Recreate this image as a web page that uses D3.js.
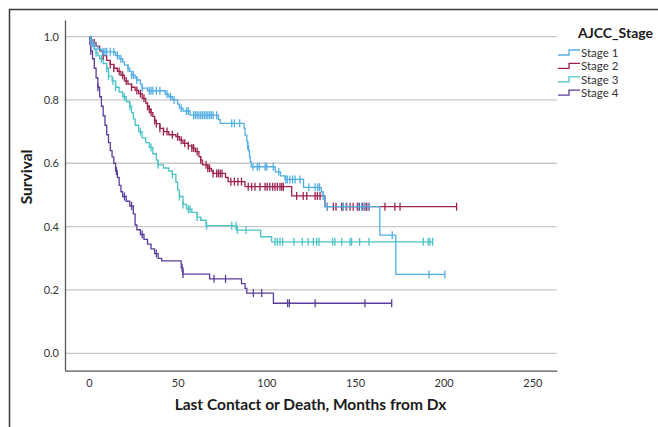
<!DOCTYPE html>
<html>
<head>
<meta charset="utf-8">
<script src="https://cdn.jsdelivr.net/npm/d3@7"></script>
<style>
  body { margin: 0; background: #fff; }
  text { font-family: Lato, "DejaVu Sans", sans-serif; }
</style>
</head>
<body>
<svg width="658" height="427"></svg>
<script>
const svg = d3.select("svg");

// Kaplan-Meier step points: [months, survival after the drop]
const stage1Steps = [[0,1.0],[1,0.99],[2,0.98],[3,0.97],[5,0.96],[7,0.952],[15,0.94],[17,0.93],[19,0.92],[20,0.91],[22,0.9],[23,0.89],[24,0.879],[26,0.87],[27,0.863],[29,0.85],[30,0.837],[33,0.829],[43,0.818],[45,0.81],[47,0.8],[50,0.787],[51,0.774],[53,0.765],[57,0.752],[73,0.738],[74,0.726],[87.5,0.71],[88,0.689],[89,0.67],[89.5,0.655],[90,0.64],[90.5,0.62],[91,0.605],[91.5,0.589],[105,0.573],[108,0.56],[110.5,0.549],[121,0.524],[131,0.51],[132,0.497],[133,0.463],[164,0.373],[173,0.249]];
const stage2Steps = [[0,1.0],[1,0.99],[2,0.98],[4,0.97],[6,0.955],[8,0.94],[10,0.925],[12,0.912],[14,0.9],[16,0.89],[18,0.878],[20,0.86],[22,0.85],[24,0.84],[26,0.83],[28,0.82],[30,0.805],[32,0.79],[33,0.78],[34,0.77],[35,0.76],[36,0.748],[37,0.735],[38,0.725],[40,0.71],[42,0.7],[45,0.69],[49,0.684],[51,0.673],[53,0.663],[56,0.655],[58,0.648],[60,0.637],[62,0.621],[63,0.61],[64,0.595],[67,0.584],[69,0.575],[70,0.568],[77,0.555],[78.5,0.542],[88,0.526],[114.3,0.497],[133,0.463]];
const stage3Steps = [[0,1.0],[1,0.985],[2,0.97],[3,0.96],[4,0.95],[5,0.94],[6,0.93],[8,0.915],[10,0.9],[11,0.875],[13,0.86],[15,0.84],[17,0.825],[19,0.81],[21,0.795],[23,0.78],[24,0.76],[25,0.74],[26,0.72],[28,0.7],[30,0.68],[32,0.665],[34,0.65],[36,0.63],[38,0.61],[39,0.595],[42,0.585],[45,0.575],[47,0.565],[49,0.54],[50,0.515],[51,0.495],[53,0.47],[55,0.455],[58,0.445],[61,0.43],[63,0.42],[66,0.403],[83.3,0.389],[96.8,0.368],[103,0.352]];
const stage4Steps = [[0,1.0],[0.5,0.975],[1,0.955],[2,0.93],[3,0.9],[4,0.87],[5,0.84],[6,0.81],[7,0.78],[8,0.75],[9,0.72],[10,0.69],[11,0.665],[12,0.64],[13,0.62],[14,0.6],[15,0.575],[16,0.555],[17,0.53],[18,0.51],[19,0.495],[21,0.48],[23,0.465],[25,0.44],[26,0.405],[27,0.39],[29,0.375],[31,0.36],[33,0.345],[35,0.33],[37,0.315],[39,0.3],[41,0.292],[52,0.27],[53,0.25],[68,0.235],[86,0.22],[88,0.205],[89,0.19],[104,0.158]];

// censored cases (months)
const stage1Censored = [1,2,3,8,9,10,12,14,16,18,22,24,25,27,30,34,35,36,38,40,44,46,48,52,55,56,59,60,61,62,63,64,65,66,67,68,69,70,72,80.5,82,85,89.5,92.5,94.9,96,99.3,100.2,103.9,107,111,111.8,113.3,114.8,116.2,119,124,127.5,129,130,132,134.4,143.4,144.9,151.9,153.8,155.1,157.5,171,191.7,200.7];
const stage2Censored = [1,3,8,12,14,17,19,21,24,27,29,31,33,34,35,37,38,40,42,44,47,50,52,54,56,58,59,61,63,66,67,68,70,72,73,74,75,80,82,84,86,89.8,91.7,93.6,96.4,99.3,100.5,102,103.6,104.9,106.2,107.7,108.7,109.6,117.1,120.8,122.8,127.5,128.8,130.3,134.4,137.8,139.3,142.5,143.4,145.3,147.2,149,151.3,152.4,154.3,155.6,156.6,157.9,166.9,172.5,175.4,207.3];
const stage3Censored = [1,4,7,10,11,13.5,15,20,23,29,35,39,47,51,53,56,57,61,66.3,80.5,82.9,83.6,88.5,104.9,106.2,107.7,109.2,115.6,120.3,123.6,126.5,128.4,129.7,137.4,138.7,142.5,147.2,148.1,152.6,157.9,188.5,191.3,192.3,193.8];
const stage4Censored = [1,5,15.5,20,24,30,38,52.5,53,70.5,77,92.7,97.4,112,113,127.5,155.6,170.7];

const stageNames = ["Stage 1", "Stage 2", "Stage 3", "Stage 4"];
const stageColors = ["#52aee2", "#9c2350", "#4cc3c6", "#5b3d9c"];
const xTicks = [0, 50, 100, 150, 200, 250];
const yTicks = [0.0, 0.2, 0.4, 0.6, 0.8, 1.0];

const series = [
  {name: stageNames[0], steps: stage1Steps, cens: stage1Censored, color: stageColors[0]},
  {name: stageNames[1], steps: stage2Steps, cens: stage2Censored, color: stageColors[1]},
  {name: stageNames[2], steps: stage3Steps, cens: stage3Censored, color: stageColors[2]},
  {name: stageNames[3], steps: stage4Steps, cens: stage4Censored, color: stageColors[3]}
];

const x = d3.scaleLinear().domain([-13.53, 263.75]).range([65, 556.7]);
const y = d3.scaleLinear().domain([-0.055, 1.0524]).range([370.7, 20]);

// outer frame (only left and top edges visible)
svg.append("rect")
  .attr("x", 9.5).attr("y", 9.5)
  .attr("width", 700).attr("height", 500)
  .attr("fill", "none")
  .attr("stroke", "#3a3a3a")
  .attr("stroke-width", 1.5);

// gridlines
svg.append("g")
  .selectAll("line")
  .data(yTicks)
  .join("line")
  .attr("x1", x.range()[0]).attr("x2", x.range()[1])
  .attr("y1", d => y(d)).attr("y2", d => y(d))
  .attr("stroke", "#c8c8c8")
  .attr("stroke-width", 1.3);

// axes
const xAxis = svg.append("g")
  .attr("transform", `translate(0,${y.range()[0]})`)
  .call(d3.axisBottom(x).tickValues(xTicks).tickSize(0).tickPadding(9).tickFormat(d3.format("d")));
const yAxis = svg.append("g")
  .attr("transform", `translate(${x.range()[0]},0)`)
  .call(d3.axisLeft(y).tickValues(yTicks).tickSize(0).tickPadding(6).tickFormat(d3.format(".1f")));

[xAxis, yAxis].forEach(ax => {
  ax.select(".domain").attr("stroke", "#555").attr("stroke-width", 1.3);
  ax.selectAll("text").attr("fill", "#333").attr("font-size", 11)
    .attr("font-family", "Lato, sans-serif");
});

// axis titles
svg.append("text")
  .attr("x", 310.5).attr("y", 410)
  .attr("text-anchor", "middle")
  .attr("font-size", 15.5).attr("font-weight", "bold")
  .attr("fill", "#1a1a1a")
  .text("Last Contact or Death, Months from Dx");

svg.append("text")
  .attr("transform", "translate(32,177) rotate(-90)")
  .attr("text-anchor", "middle")
  .attr("font-size", 15.5).attr("font-weight", "bold")
  .attr("fill", "#1a1a1a")
  .text("Survival");

// survival value at time t
function survAt(steps, t) {
  let v = steps[0][1];
  steps.forEach(s => { if (s[0] <= t) v = s[1]; });
  return v;
}

const line = d3.line()
  .x(d => x(d[0]))
  .y(d => y(d[1]))
  .curve(d3.curveStepAfter);

// draw in reverse so Stage 1 is on top
series.slice().reverse().forEach(s => {
  const endT = d3.max(s.cens);
  const pts = s.steps.concat([[endT, s.steps[s.steps.length - 1][1]]]);

  svg.append("path")
    .datum(pts)
    .attr("d", line)
    .attr("fill", "none")
    .attr("stroke", s.color)
    .attr("stroke-width", 1.3);

  svg.append("g")
    .selectAll("line")
    .data(s.cens)
    .join("line")
    .attr("x1", d => x(d)).attr("x2", d => x(d))
    .attr("y1", d => y(survAt(s.steps, d)) - 4)
    .attr("y2", d => y(survAt(s.steps, d)) + 4)
    .attr("stroke", s.color)
    .attr("stroke-width", 1.3);
});

// legend
const legend = svg.append("g");
legend.append("text")
  .attr("x", 578).attr("y", 38)
  .attr("font-size", 14).attr("font-weight", "bold")
  .attr("fill", "#1a1a1a")
  .text("AJCC_Stage");

series.forEach((s, i) => {
  const cy = 53 + i * 13.4;
  legend.append("path")
    .attr("d", `M558,${cy + 2}H569V${cy - 3}H580`)
    .attr("fill", "none")
    .attr("stroke", s.color)
    .attr("stroke-width", 1.3);
  legend.append("text")
    .attr("x", 581).attr("y", cy + 4)
    .attr("font-size", 11.5)
    .attr("fill", "#333")
    .text(s.name);
});
</script>
</body>
</html>
